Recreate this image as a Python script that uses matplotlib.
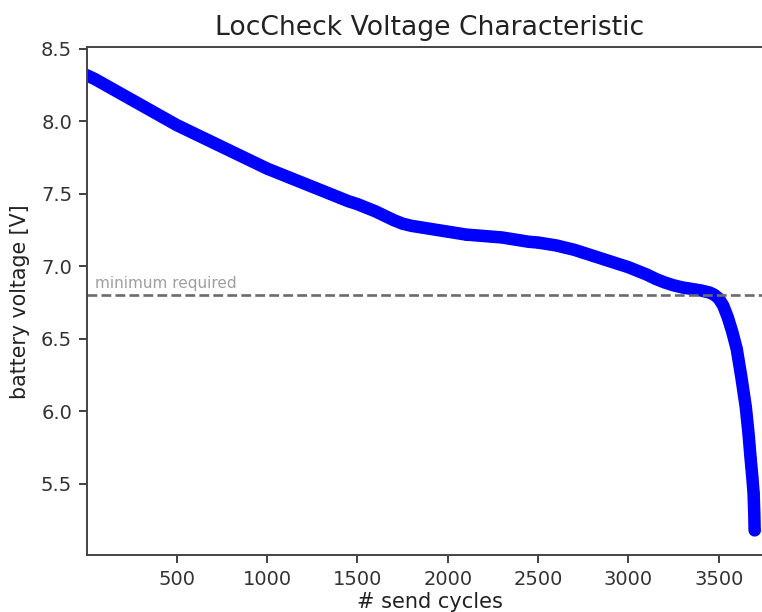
import matplotlib
matplotlib.use("Agg")
import matplotlib.pyplot as plt

cycles = [0, 50, 100, 150, 200, 250, 300, 350, 400, 450, 500, 550, 600, 650, 700,
          750, 800, 850, 900, 950, 1000, 1050, 1100, 1150, 1200, 1250, 1300, 1350,
          1400, 1450, 1500, 1550, 1600, 1650, 1700, 1750, 1800, 1850, 1900, 1950,
          2000, 2050, 2100, 2150, 2200, 2250, 2300, 2350, 2400, 2450, 2500, 2550,
          2600, 2650, 2700, 2750, 2800, 2850, 2900, 2950, 3000, 3050, 3100, 3150,
          3200, 3250, 3300, 3350, 3400, 3450, 3475, 3500, 3525, 3550, 3575, 3600,
          3625, 3650, 3665, 3677, 3686, 3693, 3697, 3699]
voltage = [8.32, 8.29, 8.255, 8.22, 8.185, 8.15, 8.115, 8.08, 8.045, 8.01, 7.975,
           7.945, 7.915, 7.885, 7.855, 7.825, 7.795, 7.765, 7.735, 7.705, 7.675,
           7.65, 7.625, 7.60, 7.575, 7.55, 7.525, 7.50, 7.475, 7.45, 7.43, 7.405,
           7.38, 7.35, 7.32, 7.295, 7.28, 7.27, 7.26, 7.25, 7.24, 7.23, 7.22, 7.215,
           7.21, 7.205, 7.20, 7.19, 7.18, 7.17, 7.165, 7.155, 7.145, 7.13, 7.115,
           7.095, 7.075, 7.055, 7.035, 7.015, 6.995, 6.97, 6.945, 6.915, 6.89, 6.87,
           6.855, 6.845, 6.835, 6.82, 6.805, 6.78, 6.73, 6.65, 6.55, 6.43, 6.24,
           6.03, 5.85, 5.67, 5.55, 5.44, 5.30, 5.18]

min_required = 6.8
min_label = "minimum required"
x_ticks = [500, 1000, 1500, 2000, 2500, 3000, 3500]
y_ticks = [5.5, 6.0, 6.5, 7.0, 7.5, 8.0, 8.5]

fig = plt.figure(figsize=(7.62, 6.12), dpi=100)
ax = fig.add_axes([0.1146, 0.0931, 0.8985, 0.8293])

ax.plot(cycles, voltage, '-', color='blue', lw=9, solid_capstyle='round',
        solid_joinstyle='round')
ax.plot(cycles, voltage, 'o', color='blue', mfc='none', mew=1.5, ms=6)

ax.axhline(min_required, color='0.42', ls='--', lw=1.9)
ax.text(50, min_required + 0.03, min_label, color='0.62', fontsize=11,
        va='bottom', ha='left')

ax.set_xlim(5, 3795)
ax.set_ylim(5.01, 8.51)
ax.set_xticks(x_ticks)
ax.set_yticks(y_ticks)
ax.tick_params(labelsize=14, length=6, width=1.3, colors='#333333', pad=5)
for s in ax.spines.values():
    s.set_color('#444444')
    s.set_linewidth(1.4)

ax.set_title("LocCheck Voltage Characteristic", fontsize=19.2, color='#222222', pad=9)
ax.set_xlabel("# send cycles", fontsize=15, color='#222222', labelpad=2)
ax.set_ylabel("battery voltage [V]", fontsize=14.8, color='#222222', labelpad=8)

fig.savefig("out.png", dpi=100)
